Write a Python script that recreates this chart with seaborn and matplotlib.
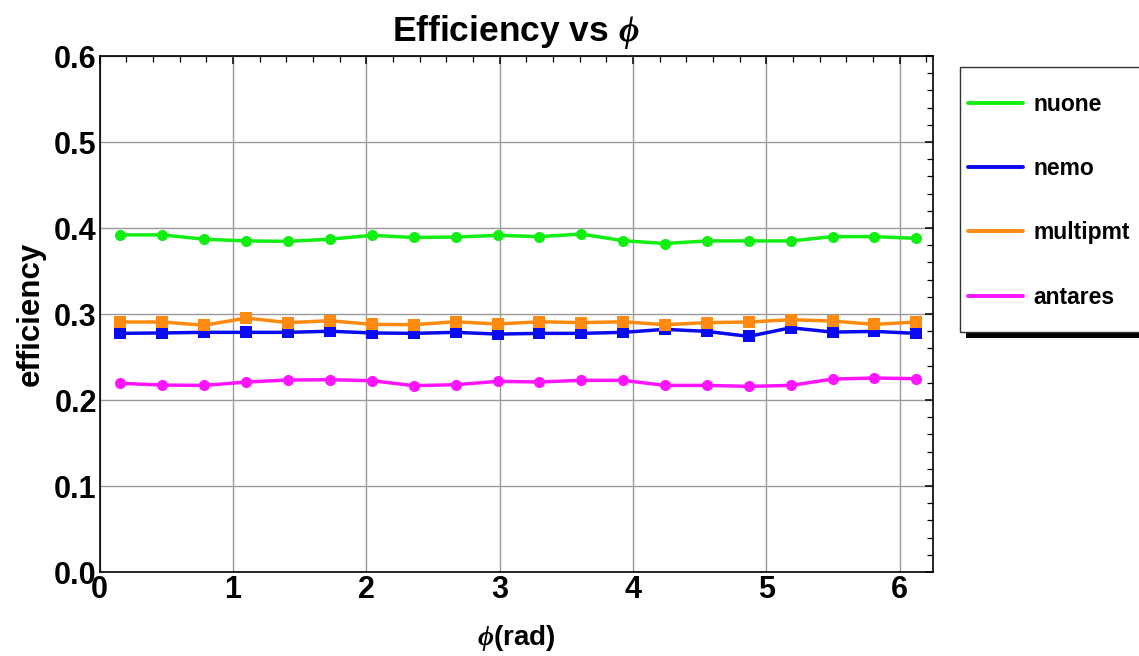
import numpy as np
import pandas as pd
import matplotlib
matplotlib.use("Agg")
import matplotlib.pyplot as plt
from matplotlib.lines import Line2D
from matplotlib.patches import Rectangle
from matplotlib.ticker import MultipleLocator, FormatStrFormatter
import seaborn as sns

# Azimuthal bin centres (20 bins over 2*pi)
phi = [0.157, 0.471, 0.785, 1.100, 1.414, 1.728, 2.042, 2.356, 2.670, 2.985,
       3.299, 3.613, 3.927, 4.241, 4.555, 4.869, 5.184, 5.498, 5.812, 6.126]

nuone = [0.392, 0.392, 0.387, 0.385, 0.3845, 0.387, 0.3915, 0.389, 0.3895, 0.3915,
         0.390, 0.393, 0.3853, 0.382, 0.385, 0.385, 0.385, 0.390, 0.390, 0.388]
nemo = [0.2775, 0.278, 0.2787, 0.2787, 0.2787, 0.280, 0.278, 0.2775, 0.2787, 0.2767,
        0.2775, 0.2775, 0.2787, 0.2822, 0.2798, 0.274, 0.284, 0.279, 0.2798, 0.2775]
multipmt = [0.2907, 0.2907, 0.287, 0.2953, 0.290, 0.2922, 0.288, 0.2876, 0.291, 0.2884,
            0.291, 0.290, 0.291, 0.2876, 0.290, 0.2907, 0.2934, 0.2918, 0.288, 0.2907]
antares = [0.2194, 0.2174, 0.217, 0.2209, 0.2233, 0.2236, 0.2225, 0.2167, 0.2178, 0.2217,
           0.221, 0.2229, 0.2229, 0.217, 0.217, 0.2159, 0.217, 0.2244, 0.2256, 0.2248]

names = ["nuone", "nemo", "multipmt", "antares"]
series = [nuone, nemo, multipmt, antares]
colors = {"nuone": "#12ee12", "nemo": "#0a0af0", "multipmt": "#ff8a10", "antares": "#ff14ff"}
markers = {"nuone": "o", "nemo": "s", "multipmt": "s", "antares": "o"}

df = pd.DataFrame({
    "phi": np.tile(phi, len(names)),
    "eff": np.concatenate(series),
    "detector": np.repeat(names, len(phi)),
})

sns.set_theme(style="white")
plt.rcParams["font.family"] = ["Liberation Sans", "DejaVu Sans"]
plt.rcParams["font.weight"] = "bold"
plt.rcParams["text.color"] = "black"
plt.rcParams["axes.labelcolor"] = "black"
plt.rcParams["xtick.color"] = "black"
plt.rcParams["ytick.color"] = "black"
plt.rcParams["mathtext.fontset"] = "custom"
plt.rcParams["mathtext.it"] = "Liberation Serif:italic:bold"
plt.rcParams["mathtext.rm"] = "Liberation Sans:bold"

fig = plt.figure(figsize=(11.39, 6.56), dpi=100)
ax = fig.add_axes([0.0874, 0.128, 0.7316, 0.7866])

sns.lineplot(data=df, x="phi", y="eff", hue="detector", style="detector",
             hue_order=names, style_order=names, palette=colors,
             markers=markers, dashes=False, linewidth=2.5, markersize=8,
             markeredgewidth=0, legend=False, ax=ax, zorder=3)

ax.set_xlim(0, 6.25)
ax.set_ylim(0, 0.6)
ax.xaxis.set_major_locator(MultipleLocator(1))
ax.xaxis.set_minor_locator(MultipleLocator(0.2))
ax.yaxis.set_major_locator(MultipleLocator(0.1))
ax.yaxis.set_minor_locator(MultipleLocator(0.02))
ax.yaxis.set_major_formatter(FormatStrFormatter("%.1f"))
ax.tick_params(which="both", direction="in", top=True, right=True, color="black",
               labelcolor="black", labelsize=22, pad=2)
ax.tick_params(which="major", length=6, width=1.1)
ax.tick_params(which="minor", length=4, width=0.9)
for lab in ax.get_xticklabels() + ax.get_yticklabels():
    lab.set_fontweight("bold")
ax.grid(True, which="major", color="#9a9a9a", linewidth=1.0, zorder=0)
for s in ax.spines.values():
    s.set_color("black")
    s.set_linewidth(1.2)

ax.set_title(r"Efficiency vs $\phi$", fontsize=25.5, fontweight="bold", pad=11,
             color="black")
ax.set_xlabel(r"$\phi$(rad)", fontsize=20, fontweight="bold", labelpad=13)
ax.set_ylabel("efficiency", fontsize=22.5, fontweight="bold", labelpad=6)

# Legend panel with a dropped shadow, running off the right edge
W, H = 1139.0, 656.0
fig.patches.append(Rectangle((966 / W, 1 - 338 / H), 200 / W, (338 - 73) / H,
                             transform=fig.transFigure, facecolor="black",
                             edgecolor="none", zorder=0))
fig.patches.append(Rectangle((960 / W, 1 - 332 / H), 200 / W, (332 - 67) / H,
                             transform=fig.transFigure, facecolor="white",
                             edgecolor="#333333", linewidth=1.0, zorder=1))
handles = [Line2D([], [], color=colors[n], linewidth=2.8) for n in names]
leg = fig.legend(handles, names, loc="upper left",
                 bbox_to_anchor=(968 / W, 1 - 93 / H), frameon=False,
                 fontsize=16.5, handlelength=2.4, handletextpad=0.45,
                 labelspacing=1.8, borderaxespad=0, borderpad=0)
for t in leg.get_texts():
    t.set_fontweight("bold")
    t.set_color("black")

fig.savefig("out.png", dpi=100)
